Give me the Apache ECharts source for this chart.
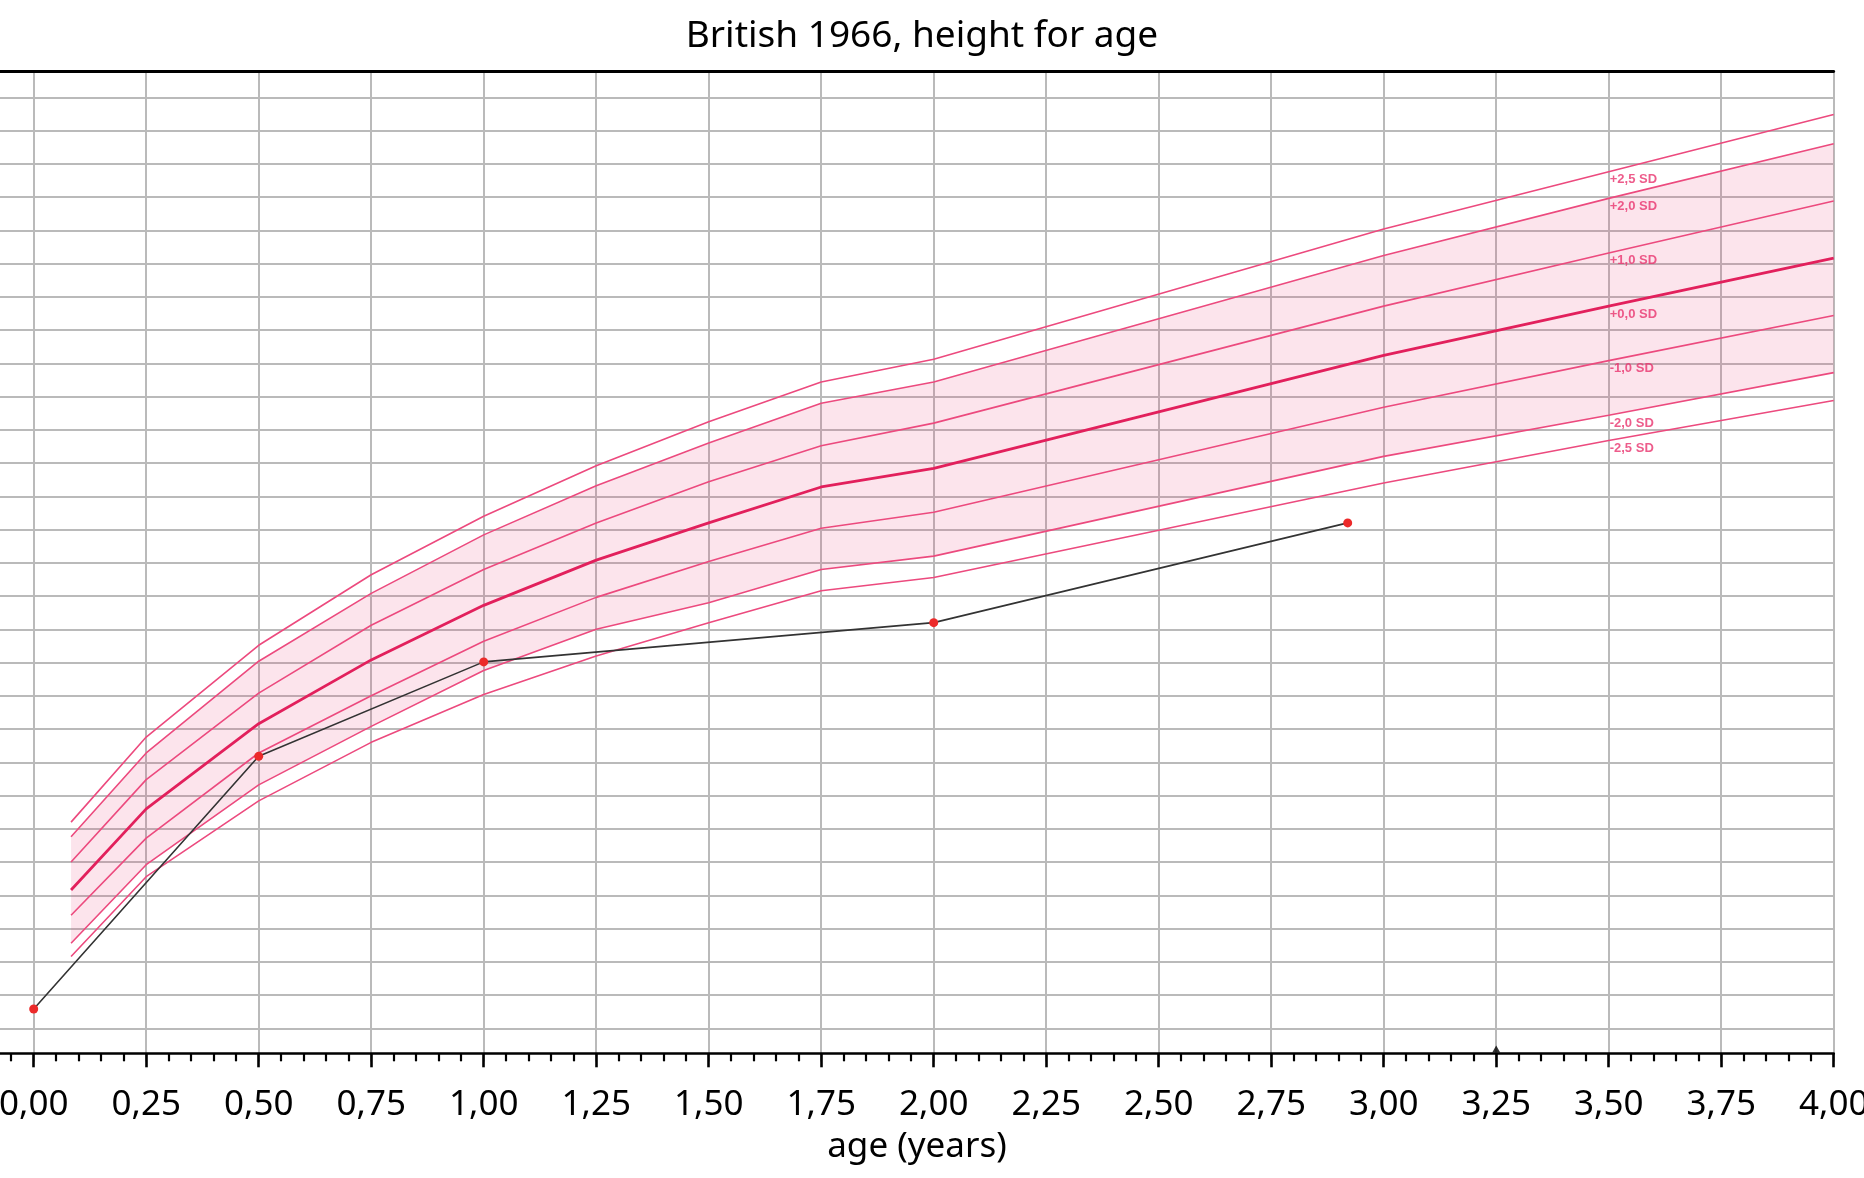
<!DOCTYPE html>
<html>
<head>
<meta charset="utf-8">
<title>British 1966, height for age</title>
<script src="https://cdn.jsdelivr.net/npm/echarts@6/dist/echarts.min.js"></script>
<style>
    html, body { margin: 0; padding: 0; background: #fff; }
    #chart { width: 1864px; height: 1178px; }
</style>
</head>
<body>
<div id="chart"></div>
<script>
// reference curves (cm)
const ages = [0.083, 0.25, 0.5, 0.75, 1.0, 1.25, 1.5, 1.75, 2.0, 3.0, 3.5, 4.0];
const sdPlus25 = [60.5, 66.9, 73.8, 79.1, 83.5, 87.3, 90.6, 93.6, 95.3, 105.1, 109.4, 113.7];
const sdPlus20 = [59.4, 65.7, 72.6, 77.7, 82.1, 85.8, 89.0, 92.0, 93.6, 103.1, 107.4, 111.5];
const sdPlus10 = [57.5, 63.7, 70.2, 75.3, 79.5, 83.0, 86.1, 88.8, 90.5, 99.3, 103.3, 107.2];
const sdMedian = [55.4, 61.5, 67.9, 72.7, 76.8, 80.2, 83.0, 85.7, 87.1, 95.6, 99.3, 102.9];
const sdMinus10 = [53.5, 59.3, 65.7, 70.0, 74.1, 77.4, 80.1, 82.6, 83.8, 91.7, 95.2, 98.6];
const sdMinus20 = [51.4, 57.3, 63.3, 67.7, 71.9, 75.0, 77.0, 79.5, 80.5, 88.0, 91.1, 94.3];
const sdMinus25 = [50.4, 56.4, 62.1, 66.5, 70.1, 73.0, 75.5, 77.9, 78.9, 86.0, 89.2, 92.2];

const sdNames = ['+2,5 SD', '+2,0 SD', '+1,0 SD', '+0,0 SD', '-1,0 SD', '-2,0 SD', '-2,5 SD'];
const sdLabelAge = 3.5;

// measurements of the child
const childAges = [0, 0.5, 1.0, 2.0, 2.92];
const childHeights = [46.45, 65.45, 72.55, 75.5, 83.0];

const currentAge = 3.25;

const xTicks = [0, 0.25, 0.5, 0.75, 1, 1.25, 1.5, 1.75, 2, 2.25, 2.5, 2.75, 3, 3.25, 3.5, 3.75, 4];

const curveColor = '#ec4a7e';
const medianColor = '#e2205c';
const font = 'Noto Sans';

const pairs = (xs, ys) => xs.map((x, i) => [x, ys[i]]);

const curves = [sdPlus25, sdPlus20, sdPlus10, sdMedian, sdMinus10, sdMinus20, sdMinus25];
const labelIdx = ages.indexOf(sdLabelAge);

const curveSeries = curves.map((values, i) => ({
    type: 'line',
    name: sdNames[i],
    data: pairs(ages, values),
    showSymbol: false,
    z: 3,
    lineStyle: {
        color: i === 3 ? medianColor : curveColor,
        width: i === 3 ? 2.8 : 1.6
    },
    emphasis: {disabled: true}
}));

// pink band between -2 SD and +2 SD
const band = {
    type: 'custom',
    data: ages.map((a, i) => [a, sdMinus20[i], sdPlus20[i]]),
    encode: {x: 0, y: [1, 2]},
    z: 1,
    silent: true,
    renderItem: (params, api) => {
        if (params.dataIndex !== 0) return;
        const upper = ages.map((a, i) => api.coord([a, sdPlus20[i]]));
        const lower = ages.map((a, i) => api.coord([a, sdMinus20[i]])).reverse();
        return {
            type: 'polygon',
            shape: {points: upper.concat(lower)},
            style: {fill: 'rgba(236, 64, 122, 0.14)'}
        };
    }
};

const sdLabels = {
    type: 'scatter',
    data: curves.map((values, i) => ({name: sdNames[i], value: [sdLabelAge, values[labelIdx]]})),
    symbolSize: 2,
    itemStyle: {color: 'rgba(0,0,0,0)'},
    label: {
        show: true,
        formatter: p => p.name,
        position: [2, 9],
        align: 'left',
        verticalAlign: 'middle',
        color: '#e8336e',
        fontFamily: 'Liberation Sans',
        fontWeight: 'bold',
        fontSize: 13
    },
    emphasis: {disabled: true},
    z: 4
};

const child = {
    type: 'line',
    data: pairs(childAges, childHeights),
    symbol: 'circle',
    symbolSize: 9,
    showSymbol: true,
    lineStyle: {color: '#333', width: 1.6},
    itemStyle: {color: '#ec2a2a'},
    emphasis: {disabled: true},
    z: 5
};

const ageMarker = {
    type: 'scatter',
    data: [[currentAge, 43.45]],
    symbol: 'triangle',
    symbolSize: [8, 7],
    itemStyle: {color: '#000'},
    emphasis: {disabled: true},
    z: 6
};

var chart = echarts.init(document.getElementById('chart'));
var option = {
    animation: false,
    backgroundColor: '#fff',
    title: {
        text: 'British 1966, height for age',
        left: 917,
        top: 13,
        textAlign: 'center',
        textStyle: {fontFamily: font, fontSize: 37, fontWeight: 'normal', color: '#000'}
    },
    grid: {
        left: -78.8,
        right: 30.3,
        top: 71,
        bottom: 116.45,
        outerBoundsMode: 'none',
        containLabel: false
    },
    xAxis: [
        {
            type: 'value',
            min: -0.25,
            max: 4,
            interval: 0.25,
            offset: -8.25,
            name: 'age (years)',
            nameLocation: 'middle',
            nameGap: 76,
            nameTextStyle: {fontFamily: font, fontSize: 35, color: '#000', padding: [0, 0, 0, 79]},
            axisLine: {show: true, onZero: false, lineStyle: {color: '#000', width: 2.6}},
            axisTick: {show: true, length: 14, lineStyle: {color: '#000', width: 2.6}},
            minorTick: {show: true, splitNumber: 5, length: 8, lineStyle: {color: '#000', width: 2.2}},
            axisLabel: {
                margin: 34,
                fontFamily: font,
                fontSize: 35,
                color: '#000',
                hideOverlap: false,
                formatter: v => xTicks.indexOf(+v.toFixed(2)) >= 0 ? v.toFixed(2).replace('.', ',') : ''
            },
            splitLine: {show: true, lineStyle: {color: '#bababa', width: 2}}
        },
        {
            type: 'value',
            position: 'top',
            min: -0.25,
            max: 4,
            interval: 0.25,
            axisLine: {show: true, onZero: false, lineStyle: {color: '#000', width: 2.8}},
            axisTick: {show: false},
            axisLabel: {show: false},
            splitLine: {show: false}
        }
    ],
    yAxis: {
        type: 'value',
        min: 42.5,
        max: 116.977,
        interval: 2.5,
        axisLine: {show: false},
        axisTick: {show: false},
        axisLabel: {show: false},
        splitLine: {show: true, showMinLine: false, showMaxLine: false, lineStyle: {color: '#bababa', width: 2}}
    },
    series: [band, ...curveSeries, sdLabels, child, ageMarker]
};
chart.setOption(option);
</script>
</body>
</html>
